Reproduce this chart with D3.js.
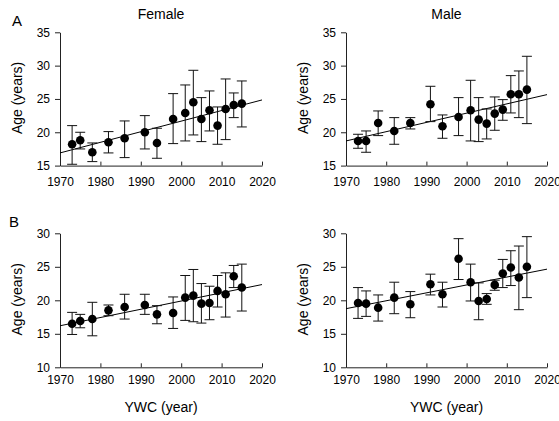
<!DOCTYPE html>
<html>
<head>
<meta charset="utf-8">
<script src="https://cdn.jsdelivr.net/npm/d3@7"></script>
<style>
  body { margin: 0; background: #fff; }
  text { font-family: "Liberation Sans", Arial, sans-serif; fill: #000; }
</style>
</head>
<body>
<div id="chart-holder"></div>
<script>
// ****DATA****
const years = [1973, 1975, 1978, 1982, 1986, 1991, 1994, 1998, 2001, 2003, 2005, 2007, 2009, 2011, 2013, 2015];

// Panel A - female
const femaleA   = [18.2, 18.8, 17.0, 18.5, 19.1, 20.0, 18.4, 22.0, 22.9, 24.5, 22.0, 23.3, 21.0, 23.5, 24.1, 24.3];
const femaleALo = [15.2, 17.5, 15.6, 16.9, 16.2, 17.5, 16.1, 18.3, 18.7, 19.6, 18.6, 20.2, 18.2, 18.9, 22.2, 20.8];
const femaleAHi = [21.0, 20.0, 18.4, 20.1, 21.7, 22.5, 20.6, 25.8, 27.1, 29.3, 25.2, 26.2, 23.8, 28.0, 25.9, 27.7];
// Panel A - male
const maleA   = [18.7, 18.7, 21.4, 20.2, 21.4, 24.2, 20.9, 22.3, 23.3, 21.9, 21.3, 22.8, 23.4, 25.7, 25.7, 26.4];
const maleALo = [17.6, 17.0, 19.5, 18.2, 20.5, 21.6, 19.1, 19.5, 18.7, 18.6, 19.0, 20.3, 21.8, 22.9, 22.2, 21.3];
const maleAHi = [19.7, 20.2, 23.2, 22.2, 22.2, 26.9, 22.6, 25.2, 27.8, 25.2, 23.5, 25.3, 24.9, 28.5, 29.2, 31.4];
// Panel B - female
const femaleB   = [16.5, 16.9, 17.2, 18.5, 19.0, 19.3, 17.9, 18.1, 20.4, 20.7, 19.5, 19.6, 21.4, 20.9, 23.6, 21.9];
const femaleBLo = [14.9, 15.9, 14.7, 17.7, 17.2, 17.9, 16.5, 15.8, 17.0, 16.8, 16.6, 17.1, 19.0, 17.5, 21.9, 18.4];
const femaleBHi = [18.2, 17.9, 19.7, 19.3, 20.9, 20.9, 19.2, 20.5, 23.7, 24.6, 22.5, 22.1, 23.7, 24.1, 25.2, 25.4];
// Panel B - male
const maleB   = [19.6, 19.5, 18.9, 20.4, 19.4, 22.4, 20.9, 26.2, 22.7, 19.9, 20.2, 22.3, 24.0, 24.9, 23.4, 25.0];
const maleBLo = [17.3, 17.6, 16.9, 18.0, 17.4, 20.8, 19.0, 23.1, 19.9, 17.1, 19.4, 21.5, 21.9, 22.2, 18.6, 20.4];
const maleBHi = [21.9, 21.4, 20.8, 22.7, 21.3, 23.9, 22.7, 29.2, 25.4, 22.6, 21.0, 23.0, 26.1, 27.4, 28.1, 29.5];

// Regression lines: value at 1970 and at 2020
const trendFemaleA = [16.9, 24.85];
const trendMaleA   = [18.7, 25.65];
const trendFemaleB = [16.2, 22.35];
const trendMaleB   = [18.75, 24.65];

// Tick labels
const xTicks  = [1970, 1980, 1990, 2000, 2010, 2020];
const yTicksA = [15, 20, 25, 30, 35];
const yTicksB = [10, 15, 20, 25, 30];

// ****CREATE THE SVG CANVAS****
const width = 559;
const height = 421;
const svg = d3.select('#chart-holder')
    .append('svg')
    .attr('width', width)
    .attr('height', height);

const panels = [
  { x0: 60,  x1: 262, y0: 32.3,  y1: 165.6, yTicks: yTicksA, mean: femaleA, lo: femaleALo, hi: femaleAHi, trend: trendFemaleA, title: 'Female', letter: 'A', pad: 12, xlabel: false },
  { x0: 346, x1: 547, y0: 32.3,  y1: 165.6, yTicks: yTicksA, mean: maleA,   lo: maleALo,   hi: maleAHi,   trend: trendMaleA,   title: 'Male',   letter: null, pad: 12, xlabel: false },
  { x0: 60,  x1: 262, y0: 233.3, y1: 367.3, yTicks: yTicksB, mean: femaleB, lo: femaleBLo, hi: femaleBHi, trend: trendFemaleB, title: null,     letter: 'B', pad: 8.5, xlabel: true },
  { x0: 346, x1: 547, y0: 233.3, y1: 367.3, yTicks: yTicksB, mean: maleB,   lo: maleBLo,   hi: maleBHi,   trend: trendMaleB,   title: null,     letter: null, pad: 8.5, xlabel: true }
];

panels.forEach(drawPanel);

function drawPanel(p) {
  const xScale = d3.scaleLinear().domain([1970, 2020]).range([p.x0, p.x1]);
  const yScale = d3.scaleLinear().domain(d3.extent(p.yTicks)).range([p.y1, p.y0]);
  const g = svg.append('g');

  // x axis, ticks pointing inwards
  const xAxis = g.append('g')
      .attr('transform', `translate(0, ${p.y1})`)
      .call(d3.axisBottom(xScale).tickValues(xTicks).tickFormat(d3.format('d'))
            .tickSizeInner(-4).tickSizeOuter(0).tickPadding(p.pad));
  // y axis, ticks pointing outwards
  const yAxis = g.append('g')
      .attr('transform', `translate(${p.x0}, 0)`)
      .call(d3.axisLeft(yScale).tickValues(p.yTicks)
            .tickSizeInner(5).tickSizeOuter(0).tickPadding(5));
  [xAxis, yAxis].forEach(a => {
    a.selectAll('path, line').attr('stroke', '#222');
    a.selectAll('text').style('font-size', '12px').style('font-family', '"Liberation Sans", Arial, sans-serif').attr('fill', '#000');
  });

  // trend line
  g.append('line')
      .attr('x1', xScale(1970)).attr('y1', yScale(p.trend[0]))
      .attr('x2', xScale(2020)).attr('y2', yScale(p.trend[1]))
      .attr('stroke', '#000').attr('stroke-width', 1);

  // error bars
  const bars = g.selectAll('.err').data(years).enter().append('g').attr('class', 'err');
  bars.append('line')
      .attr('x1', d => xScale(d)).attr('x2', d => xScale(d))
      .attr('y1', (d, i) => yScale(p.lo[i])).attr('y2', (d, i) => yScale(p.hi[i]));
  bars.append('line')
      .attr('x1', d => xScale(d) - 5).attr('x2', d => xScale(d) + 5)
      .attr('y1', (d, i) => yScale(p.hi[i])).attr('y2', (d, i) => yScale(p.hi[i]));
  bars.append('line')
      .attr('x1', d => xScale(d) - 5).attr('x2', d => xScale(d) + 5)
      .attr('y1', (d, i) => yScale(p.lo[i])).attr('y2', (d, i) => yScale(p.lo[i]));
  bars.selectAll('line').attr('stroke', '#111').attr('stroke-width', 1);

  // points
  g.selectAll('circle').data(years).enter().append('circle')
      .attr('cx', d => xScale(d))
      .attr('cy', (d, i) => yScale(p.mean[i]))
      .attr('r', 4.3)
      .attr('fill', '#000');

  // y label
  const cy = (p.y0 + p.y1) / 2 - 1;
  g.append('text')
      .attr('transform', `translate(${p.x0 - 38}, ${cy}) rotate(-90)`)
      .attr('text-anchor', 'middle')
      .style('font-size', '14px')
      .text('Age (years)');

  if (p.title) {
    g.append('text')
        .attr('x', (p.x0 + p.x1) / 2).attr('y', 19)
        .attr('text-anchor', 'middle')
        .style('font-size', '14px')
        .text(p.title);
  }
  if (p.letter) {
    g.append('text')
        .attr('x', p.letter === 'A' ? 12 : 9).attr('y', p.y0 - 6)
        .style('font-size', '15px')
        .text(p.letter);
  }
  if (p.xlabel) {
    g.append('text')
        .attr('x', (p.x0 + p.x1) / 2).attr('y', 412)
        .attr('text-anchor', 'middle')
        .style('font-size', '14px')
        .text('YWC (year)');
  }
}
</script>
</body>
</html>
